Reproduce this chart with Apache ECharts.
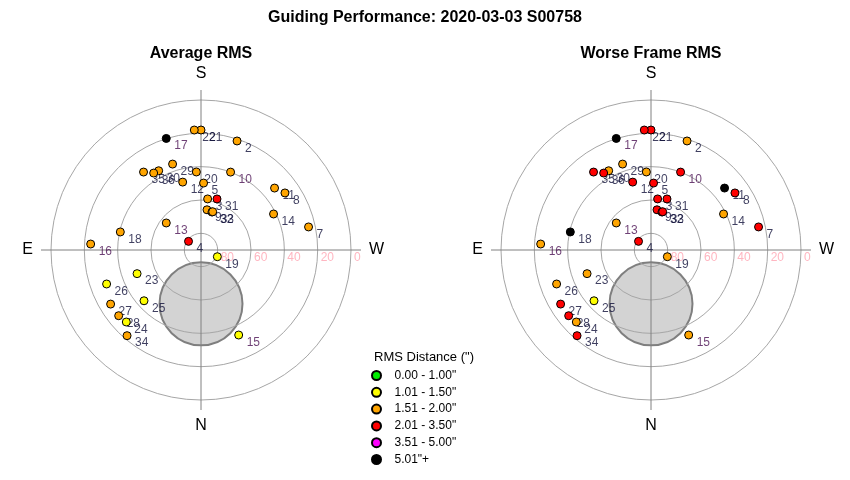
<!DOCTYPE html>
<html><head><meta charset="utf-8">
<script src="https://cdn.jsdelivr.net/npm/echarts@6/dist/echarts.min.js"></script>
<style>html,body{margin:0;padding:0;background:#fff}#c{width:850px;height:480px}</style>
</head><body><div id="c"></div>
<script>
// ---- data ----
const pointIds  = [2,3,4,5,7,8,9,10,11,12,13,14,15,16,17,18,19,20,21,22,23,24,25,26,27,28,29,30,31,32,33,34,35,36];
const altitude  = [21.1,59.1,80.9,49.8,24.0,29.1,65.6,40.0,32.3,47.8,63.6,41.4,34.2,23.7,19.9,40.4,79.4,43.1,18.0,17.9,49.1,27.75,44.2,29.8,26.8,26.8,35.7,36.1,57.9,66.3,66.0,22.1,31.9,35.8];
const azimuth   = [198.3,187.4,124.7,182.2,257.9,235.8,188.5,200.8,229.9,164.9,127.9,243.6,336.1,93.1,162.7,102.6,292.3,176.6,180.0,176.8,69.7,46.05,48.3,70.2,59.1,51.4,161.7,151.9,197.4,196.1,197.0,40.8,143.6,148.4];
// RMS class index: 0 green,1 yellow,2 orange,3 red,4 magenta,5 black
const avgClass   = [2,2,3,2,2,2,2,2,2,2,2,2,1,2,5,2,1,2,2,2,1,1,1,1,2,2,2,2,3,2,2,2,2,2];
const worstClass = [2,3,3,3,3,3,3,3,5,3,2,2,2,2,5,5,2,2,3,3,2,2,1,2,3,3,2,2,3,3,3,3,3,3];
const labelTone  = [0,0,0,0,0,0,0,1,0,0,1,0,1,1,1,0,0,0,0,0,0,0,0,0,0,0,0,0,0,0,0,0,0,0];
const classNames = ['0.00 - 1.00"','1.01 - 1.50"','1.51 - 2.00"','2.01 - 3.50"','3.51 - 5.00"','5.01"+'];
const classColors = ['#00ee00','#ffff00','#ffa500','#ff0000','#ff00ff','#000000'];
const altTicks = [0,20,40,60,80];
const dirLabels = {0:'N',90:'E',180:'S',270:'W'};
const obstruction = {alt:57.7, az:0};
const mainTitle = 'Guiding Performance: 2020-03-03 S00758';
const panelTitles = ['Average RMS','Worse Frame RMS'];
const legendTitle = 'RMS Distance (")';

const FONT = "'Liberation Sans', Arial, Helvetica, sans-serif";
const toneColors = ['#10103a','#4a1052'];
const chart = echarts.init(document.getElementById('c'));
const panels = [{cx:201, classes:avgClass},{cx:651, classes:worstClass}];
const polar = [], angleAxis = [], radiusAxis = [], series = [];
const title = [{text:mainTitle, left:'center', top:10, padding:0, textStyle:{fontSize:16, fontWeight:'bold', color:'#000', fontFamily:FONT}}];
panels.forEach((p, i) => {
  const cy = 250;
  const gA = 2*i, gB = 2*i+1;
  title.push({text:panelTitles[i], left:p.cx, top:46, textAlign:'center', padding:0, textStyle:{fontSize:16, fontWeight:'bold', color:'#000', fontFamily:FONT}});
  polar.push({center:[p.cx, cy], radius:150});
  polar.push({center:[p.cx, cy], radius:160});
  angleAxis.push({polarIndex:gA, type:'value', min:0, max:360, startAngle:0, show:false});
  radiusAxis.push({polarIndex:gA, type:'value', inverse:true, min:0, max:90, interval:20,
    axisLine:{show:false}, axisTick:{show:false},
    splitLine:{show:true, lineStyle:{color:'#a6a6a6', width:1}},
    axisLabel:{formatter:v => altTicks.includes(v) ? String(v) : '', color:'#ffb6c1', fontSize:12, fontFamily:FONT,
      align:'left', verticalAlign:'top', margin:-2, padding:[0,0,0,3]}});
  angleAxis.push({polarIndex:gB, type:'value', min:0, max:360, interval:90, startAngle:270, clockwise:true,
    axisLine:{show:false}, axisTick:{show:false},
    splitLine:{show:true, lineStyle:{color:'#808080', width:1}},
    axisLabel:{formatter:v => (v < 360 && dirLabels[v]) || '', fontSize:16, color:'#000', fontFamily:FONT, margin:8}});
  radiusAxis.push({polarIndex:gB, type:'value', inverse:true, min:-6, max:90, show:false});
  series.push({type:'scatter', coordinateSystem:'polar', polarIndex:gB, z:-1, silent:true, symbolSize:83,
    data:[[obstruction.alt, obstruction.az]],
    itemStyle:{color:'#d3d3d3', borderColor:'#7f7f7f', borderWidth:2, opacity:1}});
  series.push({type:'scatter', coordinateSystem:'polar', polarIndex:gB, z:2, silent:true, symbolSize:8,
    itemStyle:{color:'rgba(0,0,0,0)', borderWidth:0},
    label:{show:true, position:'right', distance:4, offset:[0,7.5], fontSize:12, fontFamily:FONT,
      formatter:q => q.name},
    data:pointIds.map((id,k) => ({name:String(id), value:[altitude[k], azimuth[k]],
      label:{color:toneColors[labelTone[k]]}}))});
  classNames.forEach((nm, c) => {
    const d = [];
    pointIds.forEach((id,k) => { if (p.classes[k] === c) d.push([altitude[k], azimuth[k]]); });
    series.push({type:'scatter', name:nm, coordinateSystem:'polar', polarIndex:gB, z:3, silent:true, symbolSize:8,
      itemStyle:{color:classColors[c], borderColor:'#000', borderWidth:1, opacity:1}, data:d});
  });
});
title.push({text:legendTitle, left:374, top:351, padding:0, textStyle:{fontSize:13, fontWeight:'normal', color:'#000', fontFamily:FONT}});
chart.setOption({
  animation:false,
  backgroundColor:'#fff',
  title, polar, angleAxis, radiusAxis, series,
  legend:{data:classNames, orient:'vertical', left:371, top:369.5, itemWidth:26, itemHeight:9, itemGap:4.8, icon:'circle',
    selectedMode:false, padding:0, textStyle:{fontSize:12, color:'#000', fontFamily:FONT}}
});
</script></body></html>
